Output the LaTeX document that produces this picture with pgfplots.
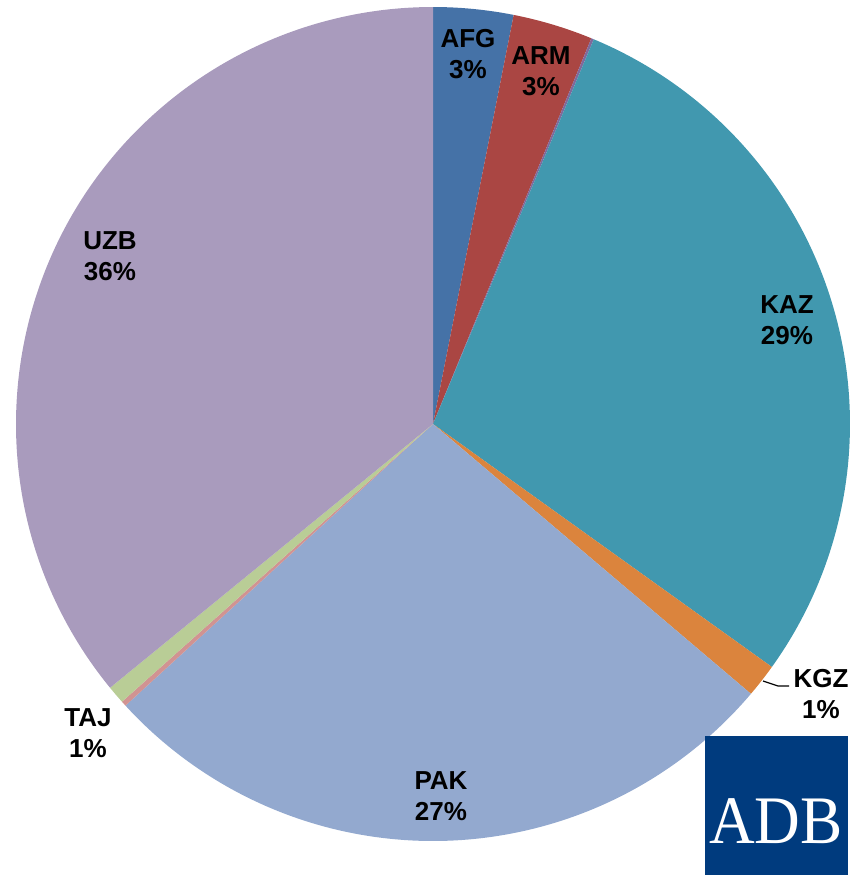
\documentclass[border=0pt]{standalone}
\usepackage{fontspec}
\setmainfont{Liberation Sans}
\newfontfamily\logofont{Liberation Serif}
\usepackage{pgfplots}
\pgfplotsset{compat=1.18}
\definecolor{cAFG}{RGB}{69,114,167}
\definecolor{cARM}{RGB}{170,70,67}
\definecolor{cAZE}{RGB}{128,105,155}
\definecolor{cKAZ}{RGB}{65,152,175}
\definecolor{cKGZ}{RGB}{219,132,61}
\definecolor{cPAK}{RGB}{147,169,207}
\definecolor{cPNK}{RGB}{209,147,146}
\definecolor{cTAJ}{RGB}{185,205,150}
\definecolor{cUZB}{RGB}{169,155,189}
\definecolor{adbblue}{RGB}{0,59,126}

\begin{document}
\begin{tikzpicture}
\begin{axis}[
    width=432pt, height=437.5pt,
    scale only axis,
    hide axis,
    xmin=0, xmax=864,
    ymin=0, ymax=875,
    y dir=reverse,
    clip=false,
]
% pie: share in percent, clockwise from 12 o'clock
\pgfplotsextra{%
  \gdef\cum{0}%
  \foreach \v/\c in {3.1/cAFG,3.1/cARM,0.1/cAZE,28.6/cKAZ,1.3/cKGZ,
                     27.0/cPAK,0.2/cPNK,0.7/cTAJ,35.9/cUZB}{%
    \pgfmathsetmacro\a{90-3.6*\cum}%
    \pgfmathsetmacro\b{90-3.6*(\cum+\v)}%
    \fill[\c] (axis cs:433,424) -- ++(\a:208.5pt)
        arc[start angle=\a, end angle=\b, radius=208.5pt] -- cycle;%
    \pgfmathsetmacro\n{\cum+\v}\xdef\cum{\n}%
  }%
}

\tikzset{lbl/.style={font=\bfseries\fontsize{13}{15.5}\selectfont,
    align=center, inner sep=0pt}}
\node[lbl] at (axis cs:468,54)  {AFG\\3\%};
\node[lbl] at (axis cs:541,71)  {ARM\\3\%};
\node[lbl] at (axis cs:787,320) {KAZ\\29\%};
\node[lbl] at (axis cs:821,694) {KGZ\\1\%};
\node[lbl] at (axis cs:441,796) {PAK\\27\%};
\node[lbl] at (axis cs:88,733)  {TAJ\\1\%};
\node[lbl] at (axis cs:110,256) {UZB\\36\%};
\draw[black, line width=0.6pt] (axis cs:763,681) -- (axis cs:778,686) -- (axis cs:789,686);

% logo
\fill[adbblue] (axis cs:705,736) rectangle (axis cs:848,875);
\node[white, inner sep=0pt, xscale=0.93, font=\logofont\fontsize{34}{34}\selectfont]
    at (axis cs:776,821) {ADB};
\end{axis}
\pgfresetboundingbox
\path (current axis.south west) rectangle (current axis.north east);
\end{tikzpicture}
\end{document}
